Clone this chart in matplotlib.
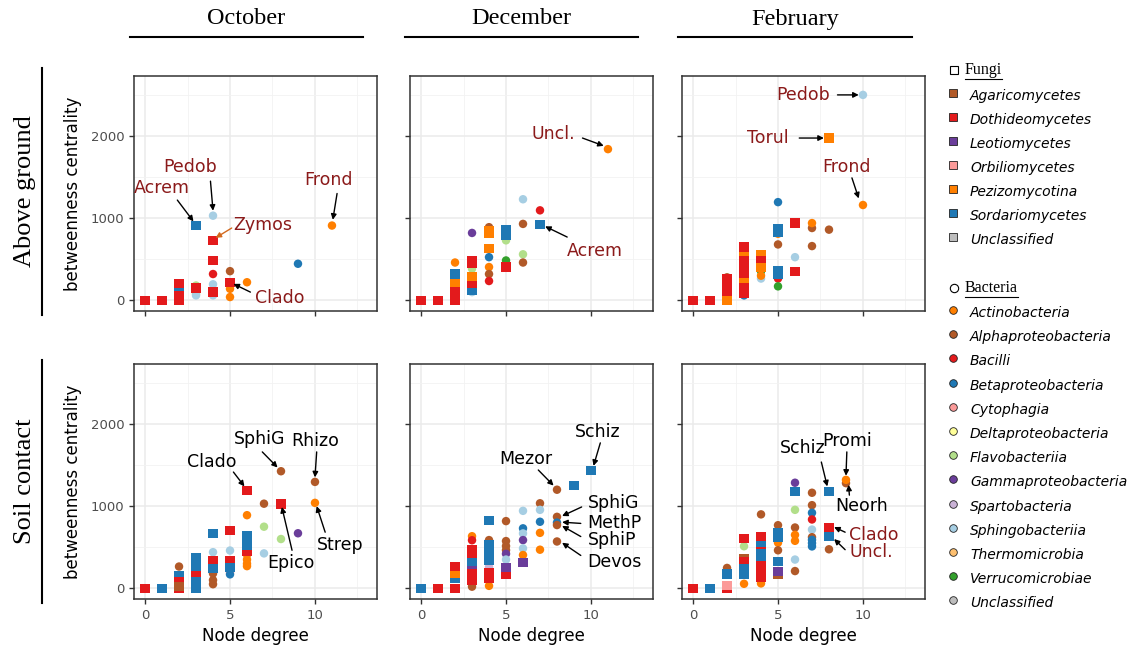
import matplotlib.pyplot as plt
from matplotlib.lines import Line2D

# class names and colours (ColorBrewer "Paired")
fungi_classes = ['Agaricomycetes', 'Dothideomycetes', 'Leotiomycetes', 'Orbiliomycetes',
                 'Pezizomycotina', 'Sordariomycetes', 'Unclassified']
fungi_colors = ['#B15928', '#E31A1C', '#6A3D9A', '#FB9A99', '#FF7F00', '#1F78B4', '#BDBDBD']
bact_classes = ['Actinobacteria', 'Alphaproteobacteria', 'Bacilli', 'Betaproteobacteria',
                'Cytophagia', 'Deltaproteobacteria', 'Flavobacteriia', 'Gammaproteobacteria',
                'Spartobacteria', 'Sphingobacteriia', 'Thermomicrobia', 'Verrucomicrobiae',
                'Unclassified']
bact_colors = ['#FF7F00', '#B15928', '#E31A1C', '#1F78B4', '#FB9A99', '#FFFF99', '#B2DF8A',
               '#6A3D9A', '#CAB2D6', '#A6CEE3', '#FDBF6F', '#33A02C', '#BDBDBD']
fcol = {c[:3]: col for c, col in zip(fungi_classes, fungi_colors)}
bcol = {c[:3]: col for c, col in zip(bact_classes, bact_colors)}

months = ['October', 'December', 'February']
rows = ['Above ground', 'Soil contact']

# (node degree, betweenness centrality, class)
oct_ag_fungi = [(0, 0, 'Dot'), (1, 0, 'Dot'), (2, 120, 'Sor'), (2, 0, 'Dot'), (2, 60, 'Dot'),
                (2, 200, 'Dot'), (3, 150, 'Dot'), (3, 910, 'Sor'), (4, 730, 'Dot'),
                (4, 485, 'Dot'), (4, 100, 'Dot'), (5, 220, 'Dot')]
oct_ag_bact = [(3, 180, 'Fla'), (3, 80, 'Fla'), (3, 60, 'Sph'), (4, 1030, 'Sph'), (4, 195, 'Sph'),
               (4, 60, 'Sph'), (4, 320, 'Bac'), (5, 355, 'Alp'), (5, 140, 'Act'), (5, 40, 'Act'),
               (6, 220, 'Act'), (9, 445, 'Bet'), (11, 910, 'Act')]

dec_ag_fungi = [(0, 0, 'Dot'), (1, 0, 'Dot'), (2, 320, 'Sor'), (2, 200, 'Pez'), (2, 0, 'Dot'),
                (2, 50, 'Dot'), (2, 100, 'Dot'), (3, 120, 'Sor'), (3, 200, 'Dot'), (3, 290, 'Pez'),
                (3, 445, 'Dot'), (3, 485, 'Dot'), (4, 630, 'Pez'), (4, 810, 'Pez'), (4, 850, 'Pez'),
                (5, 790, 'Sor'), (5, 860, 'Sor'), (5, 405, 'Dot'), (7, 925, 'Sor')]
dec_ag_bact = [(2, 460, 'Act'), (3, 820, 'Gam'), (3, 385, 'Fla'), (3, 100, 'Sph'), (4, 890, 'Alp'),
               (4, 850, 'Alp'), (4, 525, 'Bet'), (4, 405, 'Act'), (4, 320, 'Alp'), (4, 235, 'Bac'),
               (5, 730, 'Fla'), (5, 485, 'Ver'), (6, 1230, 'Sph'), (6, 930, 'Alp'),
               (6, 560, 'Fla'), (6, 460, 'Alp'), (7, 1095, 'Bac'), (11, 1840, 'Act')]

feb_ag_fungi = [(0, 0, 'Dot'), (1, 0, 'Dot'), (2, 100, 'Dot'), (2, 160, 'Dot'), (2, 220, 'Dot'),
                (2, 270, 'Dot'), (2, 0, 'Pez'), (3, 220, 'Sor'), (3, 560, 'Pez'), (3, 260, 'Pez'),
                (3, 650, 'Dot'), (3, 480, 'Dot'), (3, 410, 'Dot'), (3, 330, 'Dot'), (3, 160, 'Dot'),
                (3, 80, 'Dot'), (4, 560, 'Pez'), (4, 480, 'Dot'), (4, 400, 'Pez'),
                (5, 870, 'Sor'), (5, 830, 'Sor'), (5, 365, 'Sor'), (5, 320, 'Sor'),
                (6, 940, 'Dot'), (6, 355, 'Dot'), (8, 1975, 'Pez')]
feb_ag_bact = [(2, 280, 'Alp'), (2, 0, 'Sph'), (3, 60, 'Bet'), (4, 265, 'Sph'), (4, 355, 'Ver'),
               (4, 300, 'Act'), (5, 1195, 'Bet'), (5, 810, 'Act'), (5, 680, 'Alp'), (5, 265, 'Bac'),
               (5, 170, 'Ver'), (6, 525, 'Sph'), (7, 880, 'Alp'), (7, 940, 'Act'), (7, 660, 'Alp'),
               (8, 860, 'Alp'), (10, 2500, 'Sph'), (10, 1160, 'Act')]

oct_sc_fungi = [(0, 0, 'Dot'), (1, 0, 'Sor'), (2, 0, 'Dot'), (2, 160, 'Sor'), (2, 85, 'Dot'),
                (2, 20, 'Aga'), (3, 370, 'Sor'), (3, 300, 'Sor'), (3, 220, 'Sor'), (3, 160, 'Dot'),
                (3, 80, 'Sor'), (3, 0, 'Sor'), (4, 670, 'Sor'), (4, 340, 'Dot'), (4, 245, 'Sor'),
                (5, 707, 'Dot'), (5, 340, 'Dot'), (5, 250, 'Sor'), (6, 455, 'Dot'),
                (6, 640, 'Sor'), (6, 560, 'Sor'), (6, 520, 'Sor'), (6, 1187, 'Dot'),
                (8, 1025, 'Dot')]
oct_sc_bact = [(2, 265, 'Alp'), (3, 0, 'Sph'), (4, 440, 'Sph'), (4, 180, 'Alp'), (4, 100, 'Alp'),
               (4, 50, 'Alp'), (5, 460, 'Sph'), (5, 195, 'Cyt'), (5, 170, 'Bet'), (6, 620, 'Fla'),
               (6, 890, 'Act'), (6, 410, 'Act'), (6, 350, 'Act'), (6, 300, 'Act'), (6, 270, 'Act'),
               (7, 1030, 'Alp'), (7, 750, 'Fla'), (7, 425, 'Sph'), (8, 1425, 'Alp'),
               (8, 600, 'Fla'), (9, 670, 'Gam'), (10, 1295, 'Alp'), (10, 1040, 'Act')]

dec_sc_fungi = [(0, 0, 'Sor'), (1, 0, 'Dot'), (2, 0, 'Dot'), (2, 120, 'Sor'), (2, 185, 'Pez'),
                (2, 270, 'Dot'), (3, 321, 'Sor'), (3, 470, 'Dot'), (3, 420, 'Dot'), (3, 215, 'Leo'),
                (3, 180, 'Dot'), (3, 140, 'Dot'), (3, 100, 'Dot'), (4, 830, 'Sor'),
                (4, 530, 'Sor'), (4, 460, 'Sor'), (4, 400, 'Sor'), (4, 340, 'Sor'),
                (4, 195, 'Dot'), (4, 155, 'Dot'), (4, 120, 'Dot'), (5, 170, 'Dot'), (5, 255, 'Leo'),
                (6, 318, 'Leo'), (9, 1250, 'Sor'), (10, 1430, 'Sor')]
dec_sc_bact = [(3, 634, 'Act'), (3, 585, 'Bac'), (3, 60, 'Alp'), (3, 20, 'Alp'), (4, 587, 'Alp'),
               (4, 260, 'Spa'), (4, 100, 'Alp'), (4, 30, 'Act'), (5, 818, 'Alp'), (5, 575, 'Alp'),
               (5, 515, 'Alp'), (5, 465, 'Alp'), (5, 420, 'Gam'), (5, 350, 'Sph'), (5, 200, 'Alp'),
               (6, 943, 'Sph'), (6, 730, 'Bet'), (6, 668, 'Sph'), (6, 587, 'Gam'), (6, 486, 'Sph'),
               (6, 405, 'Act'), (7, 1035, 'Alp'), (7, 955, 'Sph'), (7, 810, 'Bet'), (7, 675, 'Act'),
               (7, 470, 'Act'), (8, 1200, 'Alp'), (8, 870, 'Alp'), (8, 800, 'Bet'),
               (8, 770, 'Alp'), (8, 570, 'Alp')]

feb_sc_fungi = [(0, 0, 'Dot'), (1, 0, 'Sor'), (2, 0, 'Dot'), (2, 35, 'Orb'), (2, 175, 'Sor'),
                (3, 605, 'Dot'), (3, 360, 'Aga'), (3, 320, 'Dot'), (3, 240, 'Sor'), (3, 175, 'Sor'),
                (4, 626, 'Dot'), (4, 520, 'Sor'), (4, 450, 'Dot'), (4, 420, 'Sor'), (4, 360, 'Sor'),
                (4, 280, 'Dot'), (4, 200, 'Dot'), (4, 130, 'Dot'), (5, 680, 'Sor'),
                (5, 620, 'Sor'), (5, 330, 'Sor'), (5, 170, 'Aga'), (5, 200, 'Leo'),
                (6, 1183, 'Sor'), (8, 1183, 'Sor'), (8, 744, 'Dot'), (8, 630, 'Sor')]
feb_sc_bact = [(2, 248, 'Alp'), (3, 512, 'Fla'), (3, 55, 'Act'), (4, 900, 'Alp'), (4, 60, 'Act'),
               (5, 768, 'Alp'), (5, 555, 'Act'), (5, 463, 'Alp'), (6, 1285, 'Gam'), (6, 955, 'Fla'),
               (6, 740, 'Alp'), (6, 650, 'Act'), (6, 578, 'Act'), (6, 350, 'Sph'), (6, 210, 'Alp'),
               (7, 1163, 'Alp'), (7, 1012, 'Alp'), (7, 919, 'Bet'), (7, 838, 'Bac'),
               (7, 715, 'Sph'), (7, 622, 'Alp'), (7, 590, 'Bet'), (7, 550, 'Bet'), (7, 510, 'Bet'),
               (8, 475, 'Alp'), (9, 1280, 'Alp'), (9, 1320, 'Act')]

# labels: text, text pos, arrow start, arrow end (point), colour, alignment
DR = '#8B1A1A'
oct_ag_notes = [('Acrem', (1.0, 1366), (1.9, 1220), (2.85, 960), DR, 'center'),
                ('Pedob', (2.65, 1622), (3.85, 1450), (4.0, 1090), DR, 'center'),
                ('Zymos', (6.9, 915), (5.1, 880), (4.15, 760), DR, 'center'),
                ('Clado', (7.9, 25), (6.2, 100), (5.2, 200), DR, 'center'),
                ('Frond', (10.8, 1463), (11.3, 1300), (11.05, 980), DR, 'center')]
dec_ag_notes = [('Uncl.', (7.8, 2024), (9.5, 1975), (10.75, 1880), DR, 'center'),
                ('Acrem', (10.2, 600), (8.6, 770), (7.3, 900), DR, 'center')]
feb_ag_notes = [('Pedob', (6.5, 2500), (8.5, 2500), (9.75, 2500), DR, 'center'),
                ('Torul', (4.4, 1975), (6.25, 1975), (7.7, 1975), DR, 'center'),
                ('Frond', (9.05, 1622), (9.35, 1490), (9.75, 1240), DR, 'center')]
oct_sc_notes = [('Clado', (3.9, 1537), (5.2, 1415), (5.85, 1240), 'k', 'center'),
                ('SphiG', (6.75, 1817), (6.9, 1660), (7.8, 1470), 'k', 'center'),
                ('Rhizo', (10.0, 1793), (10.1, 1660), (10.0, 1350), 'k', 'center'),
                ('Epico', (8.6, 305), (8.65, 463), (8.05, 990), 'k', 'center'),
                ('Strep', (11.5, 524), (10.6, 683), (10.1, 1000), 'k', 'center')]
dec_sc_notes = [('Schiz', (10.4, 1900), (10.55, 1770), (10.15, 1490), 'k', 'center'),
                ('Mezor', (6.15, 1573), (6.9, 1440), (7.8, 1250), 'k', 'center'),
                ('SphiG', (9.8, 1037), (9.45, 990), (8.3, 880), 'k', 'left'),
                ('MethP', (9.8, 797), (9.4, 790), (8.3, 805), 'k', 'left'),
                ('SphiP', (9.8, 585), (9.4, 630), (8.3, 760), 'k', 'left'),
                ('Devos', (9.8, 321), (9.4, 400), (8.3, 555), 'k', 'left')]
feb_sc_notes = [('Schiz', (6.45, 1707), (7.55, 1537), (7.9, 1240), 'k', 'center'),
                ('Promi', (9.05, 1793), (9.05, 1660), (9.0, 1370), 'k', 'center'),
                ('Neorh', (9.9, 1000), (9.2, 1134), (9.15, 1260), 'k', 'center'),
                ('Clado', (9.2, 646), (8.95, 683), (8.3, 745), DR, 'left'),
                ('Uncl.', (9.2, 439), (8.95, 470), (8.3, 600), DR, 'left')]

panels = [[(oct_ag_fungi, oct_ag_bact, oct_ag_notes), (dec_ag_fungi, dec_ag_bact, dec_ag_notes),
           (feb_ag_fungi, feb_ag_bact, feb_ag_notes)],
          [(oct_sc_fungi, oct_sc_bact, oct_sc_notes), (dec_sc_fungi, dec_sc_bact, dec_sc_notes),
           (feb_sc_fungi, feb_sc_bact, feb_sc_notes)]]

W, H = 1135, 654
fig = plt.figure(figsize=(W / 100, H / 100), dpi=100)


def fx(px):
    return px / W


def fy(py):
    return 1 - py / H


col_left = [134, 410, 682]
row_top = [76, 364]
ax_w, ax_h = 243, 235

for r in range(2):
    for c in range(3):
        fungi, bact, notes = panels[r][c]
        ax = fig.add_axes([fx(col_left[c]), fy(row_top[r] + ax_h), ax_w / W, ax_h / H])
        ax.set_xlim(-0.65, 13.65)
        ax.set_ylim(-130, 2730)
        ax.set_xticks([0, 5, 10])
        ax.set_yticks([0, 1000, 2000])
        ax.set_xticks([2.5, 7.5, 12.5], minor=True)
        ax.set_yticks([500, 1500, 2500], minor=True)
        ax.grid(which='major', color='#EBEBEB', lw=1.1, zorder=0)
        ax.grid(which='minor', color='#F2F2F2', lw=0.6, zorder=0)
        ax.set_axisbelow(True)
        for s in ax.spines.values():
            s.set_color('#333333')
            s.set_linewidth(1.1)
        ax.tick_params(which='major', length=3.5, color='#333333', width=1,
                       labelsize=9.5, labelcolor='#4D4D4D')
        ax.tick_params(which='minor', length=0)
        if c > 0:
            ax.tick_params(labelleft=False)
        else:
            ax.set_ylabel('betweenness centrality', fontsize=12, labelpad=6)
        if r == 0:
            ax.tick_params(labelbottom=False)
        else:
            ax.set_xlabel('Node degree', fontsize=12, labelpad=4)

        bx, by, bc = zip(*bact)
        ax.scatter(bx, by, c=[bcol[k] for k in bc], marker='o', s=37, linewidths=0, zorder=3)
        fxs, fys, fc = zip(*fungi)
        ax.scatter(fxs, fys, c=[fcol[k] for k in fc], marker='s', s=44, linewidths=0, zorder=3)

        for label, tpos, start, end, color, ha in notes:
            ax.text(tpos[0], tpos[1], label, color=color, fontsize=12.5, ha=ha, va='center',
                    zorder=5)
            acol = 'chocolate' if label == 'Zymos' else 'black'
            ax.annotate('', xy=end, xytext=start,
                        arrowprops=dict(arrowstyle='-|>', color=acol, lw=1, mutation_scale=8,
                                        shrinkA=0, shrinkB=0), zorder=5)

# column titles
title_lines = [(130, 363), (405, 638), (678, 912)]
for m, (x0, x1) in zip(months, title_lines):
    fig.text(fx((x0 + x1) / 2), fy(19), m, family='Liberation Serif', fontsize=17.5,
             ha='center', va='center')
    fig.add_artist(Line2D([fx(x0), fx(x1)], [fy(37), fy(37)], color='black', lw=1.5))

# row titles
for label, (y0, y1) in zip(rows, [(68, 315), (360, 603)]):
    fig.text(fx(25), fy((y0 + y1) / 2), label, family='Liberation Serif', fontsize=19,
             rotation=90, ha='center', va='center')
    fig.add_artist(Line2D([fx(42), fx(42)], [fy(y0), fy(y1)], color='black', lw=1.5))

# legend
renderer = fig.canvas.get_renderer()


def heading(py, text, marker):
    fig.add_artist(Line2D([fx(954)], [fy(py)], marker=marker, ms=6, mfc='white',
                          mec='black', mew=0.8, ls='none'))
    t = fig.text(fx(965), fy(py), text, family='Liberation Serif', fontsize=11.5,
                 ha='left', va='center')
    bb = t.get_window_extent(renderer)
    fig.add_artist(Line2D([bb.x0 / W, bb.x1 / W], [(bb.y0 - 1) / H, (bb.y0 - 1) / H],
                          color='black', lw=0.8))


def item(py, text, color, marker):
    fig.add_artist(Line2D([fx(953)], [fy(py - 3)], marker=marker, ms=5.5, mfc=color,
                          mec='#222222', mew=0.6, ls='none'))
    fig.text(fx(970), fy(py), text, fontsize=10, style='italic', ha='left', va='center')


heading(70, 'Fungi', 's')
for i, (name, col) in enumerate(zip(fungi_classes, fungi_colors)):
    item(96 + i * 24, name, col, 's')
heading(288, 'Bacteria', 'o')
for i, (name, col) in enumerate(zip(bact_classes, bact_colors)):
    item(313 + i * 24.2, name, col, 'o')

fig.savefig('out.png', dpi=100)
